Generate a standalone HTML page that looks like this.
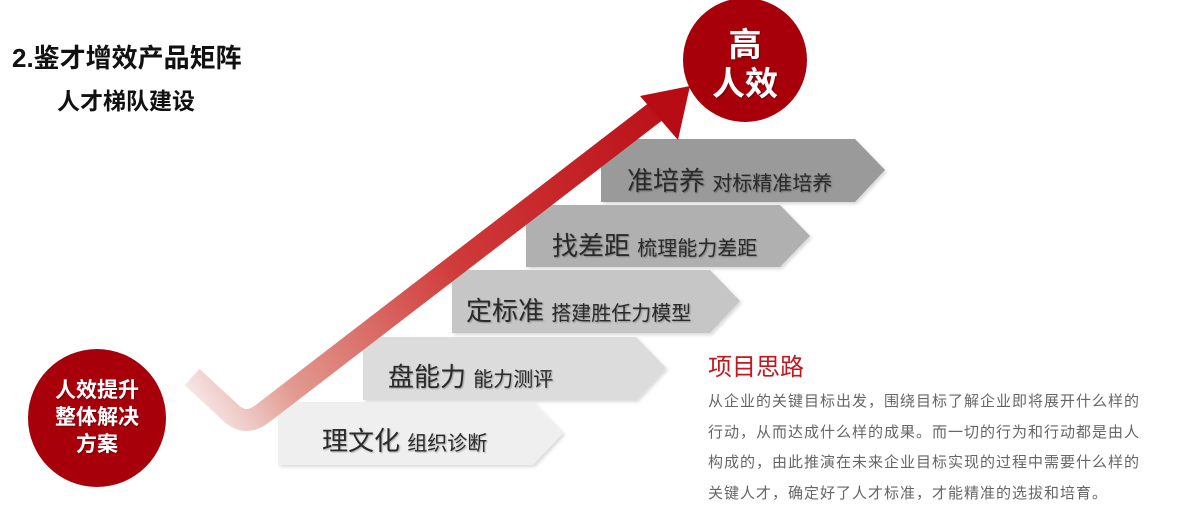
<!DOCTYPE html>
<html><head><meta charset="utf-8"><style>
html,body{margin:0;padding:0;background:#fff;}
body{width:1187px;height:510px;overflow:hidden;position:relative;font-family:"Liberation Sans","Noto Sans CJK SC",sans-serif;}
</style></head><body>
<svg width="1187" height="510" viewBox="0 0 1187 510" xmlns="http://www.w3.org/2000/svg" style="position:absolute;left:0;top:0">
<defs>
<linearGradient id="rg" gradientUnits="userSpaceOnUse" x1="195" y1="400" x2="690" y2="90">
<stop offset="0" stop-color="#f6e6e6"/>
<stop offset="0.15" stop-color="#e29a90"/>
<stop offset="0.5" stop-color="#d03a3a"/>
<stop offset="1" stop-color="#b80c14"/>
</linearGradient>
<filter id="sh" x="-5%" y="-10%" width="115%" height="130%"><feDropShadow dx="2" dy="2" stdDeviation="1.5" flood-color="#000" flood-opacity="0.15"/></filter>
<filter id="ts" x="-5%" y="-10%" width="115%" height="130%"><feDropShadow dx="1" dy="1" stdDeviation="0.8" flood-color="#000" flood-opacity="0.3"/></filter>
</defs>
<g filter="url(#sh)">
<polygon points="278,402 533,402 563,433 533,465 278,465" fill="#efefef"/>
<polygon points="363,337 636,337 666,368 636,400 363,400" fill="#dcdcdc"/>
<polygon points="452,270 710,270 740,301 710,333 452,333" fill="#c6c6c6"/>
<polygon points="526,205 780,205 810,236 780,267 526,267" fill="#b0b0b0"/>
<polygon points="601,139 855,139 885,170 855,202 601,202" fill="#9a9a9a"/>
</g>
<g fill="#2a2a2a" filter="url(#ts)">
<text x="322" y="450" font-size="26">理文化 <tspan font-size="20">组织诊断</tspan></text>
<text x="388" y="386" font-size="26">盘能力 <tspan font-size="20">能力测评</tspan></text>
<text x="466" y="320" font-size="26">定标准 <tspan font-size="20">搭建胜任力模型</tspan></text>
<text x="552" y="255" font-size="26">找差距 <tspan font-size="20">梳理能力差距</tspan></text>
<text x="627" y="190" font-size="26">准培养 <tspan font-size="20">对标精准培养</tspan></text>
</g>
<path d="M192,377 L232,414 Q246,426 262,414 L655,112" fill="none" stroke="url(#rg)" stroke-width="22" stroke-linejoin="round"/>
<polygon points="690,86 640,96 678,140" fill="#b80c14"/>
<circle cx="97" cy="418" r="69" fill="#a8000a"/>
<g fill="#fff" font-size="21" font-weight="bold" text-anchor="middle" filter="url(#ts)">
<text x="97" y="397">人效提升</text>
<text x="97" y="424">整体解决</text>
<text x="97" y="451">方案</text>
</g>
<circle cx="745" cy="60" r="62" fill="#a8000a"/>
<g fill="#fff" font-size="33" font-weight="bold" text-anchor="middle" filter="url(#ts)">
<text x="745" y="56">高</text>
<text x="745" y="95">人效</text>
</g>
<text x="12" y="67" font-size="26" font-weight="bold" fill="#111">2.鉴才增效产品矩阵</text>
<text x="57" y="109" font-size="23" font-weight="bold" fill="#111">人才梯队建设</text>
<text x="708" y="375" font-size="24" fill="#c4161c">项目思路</text>
<g fill="#666" font-size="15" letter-spacing="1">
<text x="708" y="406">从企业的关键目标出发，围绕目标了解企业即将展开什么样的</text>
<text x="708" y="437">行动，从而达成什么样的成果。而一切的行为和行动都是由人</text>
<text x="708" y="467">构成的，由此推演在未来企业目标实现的过程中需要什么样的</text>
<text x="708" y="498">关键人才，确定好了人才标准，才能精准的选拔和培育。</text>
</g>
</svg>
</body></html>
